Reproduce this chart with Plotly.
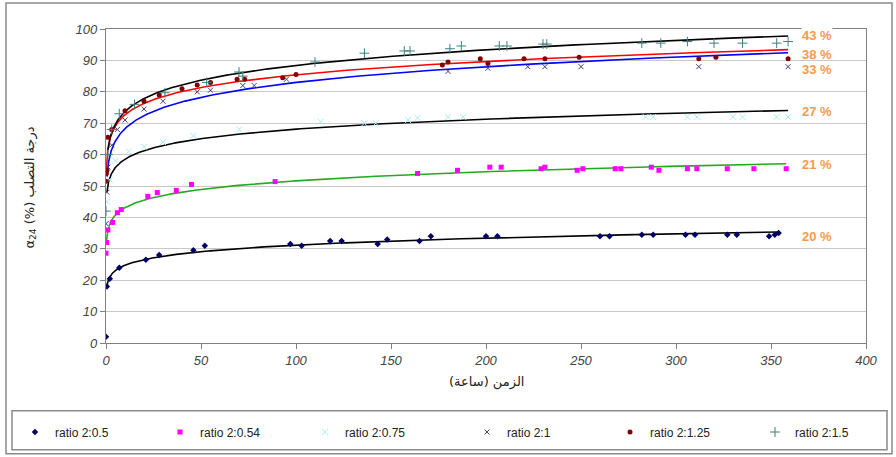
import numpy as np
import plotly.graph_objects as go

# ---------------- data ----------------
names = ["ratio 2:0.5", "ratio 2:0.54", "ratio 2:0.75", "ratio 2:1", "ratio 2:1.25", "ratio 2:1.5"]

x_05 = [0, 0.5, 2, 7, 21, 28, 46, 52, 97, 103, 118, 124, 143, 148, 165, 171, 200, 206,
        260, 265, 282, 288, 305, 310, 327, 332, 349, 352, 354]
y_05 = [2, 18, 20.5, 24, 26.5, 28, 29.5, 31, 31.5, 31, 32.5, 32.5, 31.5, 33, 32.5, 34, 34, 34,
        34, 34, 34.5, 34.5, 34.5, 34.5, 34.5, 34.5, 34, 34.5, 35]

x_054 = [0, 0.3, 1, 3.5, 6, 8, 22, 27, 37, 45, 89, 164, 185, 202, 208, 229, 231, 248, 251,
         268, 271, 287, 291, 306, 311, 327, 341, 358]
y_054 = [28.6, 32, 36, 38.4, 41.5, 42.5, 46.7, 47.9, 48.6, 50.5, 51.4, 54, 55, 56, 56, 55.5, 56,
         55, 55.5, 55.5, 55.5, 56, 55, 55.5, 55.5, 55.5, 55.5, 55.5]

x_075 = [0, 0.5, 2, 5, 12, 20, 30, 46, 70, 113, 136, 142, 159, 164, 180, 188, 284, 288, 306,
         311, 330, 335, 353, 359]
y_075 = [38, 45, 52, 58, 61, 62.5, 64, 66, 68, 70.5, 70, 70, 71, 71.7, 72, 72, 72, 72, 72,
         72, 72, 72, 72, 72]

x_1 = [0, 0.5, 1, 3, 6, 10, 20, 30, 48, 55, 72, 78, 95, 180, 201, 222, 231, 250, 312, 359]
y_1 = [38, 48, 56, 63, 68, 71, 74.5, 77, 80, 80.5, 82, 82, 84, 86.5, 87.5, 88, 88, 88, 88, 88]

x_125 = [0, 0.2, 0.5, 1, 3, 10, 20, 28, 40, 48, 55, 69, 73, 93, 100, 177, 180, 197, 201, 220,
         231, 249, 312, 321, 359]
y_125 = [51.5, 54, 55, 65.5, 68, 74, 77, 79, 81, 82.2, 83, 84, 84, 84.5, 85.5, 88.5, 89.5,
         90.5, 89, 90.5, 90.5, 91, 90.5, 91, 90.5]

x_15 = [0, 1, 3, 7, 15, 31, 53, 70, 72, 110, 136, 157, 160, 181, 187, 207, 211, 230, 232,
        282, 292, 306, 320, 335, 353, 359]
y_15 = [42, 60, 68, 73, 76, 79.7, 83, 86.3, 85, 89.5, 92.3, 93, 93, 93.7, 94.6, 94.6, 94.6,
        95.2, 95.2, 95.5, 95.5, 96, 95.5, 95.5, 95.5, 96]

pct_labels = ["20 %", "21 %", "27 %", "33 %", "38 %", "43 %"]
pct_y = [34, 56.8, 73.7, 87, 91.8, 98]

xs = [x_05, x_054, x_075, x_1, x_125, x_15]
ys = [y_05, y_054, y_075, y_1, y_125, y_15]

# ---------------- styles ----------------
marker_styles = [
    dict(symbol="diamond", color="#000066", size=5),
    dict(symbol="square", color="#FF00FF", size=5),
    dict(symbol="x-thin", color="#A8ECF4", size=6, line=dict(color="#A8ECF4", width=1)),
    dict(symbol="x-thin", color="#404070", size=5, line=dict(color="#404070", width=1)),
    dict(symbol="circle", color="#800000", size=5),
    dict(symbol="cross-thin", color="#3F7F7F", size=7, line=dict(color="#3F7F7F", width=1)),
]
trend_colors = ["#000000", "#22AA22", "#000000", "#0000FF", "#FF0000", "#000000"]
legend_marker_px = [45, 190, 335, 497, 640, 785]

L, R, T, B = 106, 30, 29, 113
W, H = 896, 457
pw, ph = W - L - R, H - T - B

def px(p):
    return (p - L) / pw

def py(p):
    return (H - B - p) / ph

fig = go.Figure()

# power trendlines fitted from the data (like spreadsheet trendlines)
for xv, yv, col in zip(xs, ys, trend_colors):
    xa = np.array(xv, dtype=float)
    ya = np.array(yv, dtype=float)
    m = xa > 0
    b, loga = np.polyfit(np.log(xa[m]), np.log(ya[m]), 1)
    xg = np.logspace(np.log10(xa[m].min()), np.log10(xa.max()), 300)
    fig.add_trace(go.Scatter(x=xg, y=np.exp(loga) * xg ** b, mode="lines",
                             line=dict(color=col, width=1.6), showlegend=False,
                             hoverinfo="skip"))

legend_layouts = {}
for i, (xv, yv, nm, ms) in enumerate(zip(xs, ys, names, marker_styles)):
    lg = "legend" if i == 0 else "legend%d" % (i + 1)
    fig.add_trace(go.Scatter(x=xv, y=yv, mode="markers", name=nm, marker=ms, legend=lg))
    legend_layouts[lg] = dict(orientation="h", x=px(legend_marker_px[i] - 30), y=py(432),
                              xanchor="left", yanchor="middle",
                              font=dict(family="Liberation Sans, Arial", size=12, color="#222"),
                              bgcolor="rgba(0,0,0,0)", borderwidth=0)

# percentage labels
for lab, yy in zip(pct_labels, pct_y):
    fig.add_annotation(x=366, y=yy, text="<b>" + lab + "</b>", showarrow=False,
                       xanchor="left", yanchor="middle",
                       font=dict(family="Liberation Sans, Arial", size=13, color="#F79A4A"),
                       bgcolor="white" if lab == "43 %" else "rgba(0,0,0,0)",
                       borderpad=0)

# outer frame and legend frame
fig.add_shape(type="rect", xref="paper", yref="paper", x0=px(6), x1=px(892), y0=py(455), y1=py(3),
              line=dict(color="#8A8A8A", width=1.5), layer="below")
fig.add_shape(type="rect", xref="paper", yref="paper", x0=px(12), x1=px(887), y0=py(451), y1=py(412),
              line=dict(color="#8A8A8A", width=1.5), layer="below")

# axis titles
fig.add_annotation(xref="paper", yref="paper", x=0.5, y=py(383), text="الزمن (ساعة)",
                   xanchor="center", yanchor="middle",
                   showarrow=False, font=dict(family="DejaVu Sans", size=13, color="#222"))
fig.add_annotation(xref="paper", yref="paper", x=px(30), y=py(188),
                   xanchor="center", yanchor="middle",
                   text="α<sub>24</sub> (%) درجة التصلب", textangle=-90,
                   showarrow=False, font=dict(family="DejaVu Sans", size=13, color="#222"))

tickfont = dict(family="Liberation Sans, Arial", size=13, color="#444", style="italic")
fig.update_xaxes(range=[0, 400], dtick=50, showgrid=False, zeroline=False,
                 showline=True, linecolor="#808080", linewidth=1.2, mirror=True,
                 ticks="outside", ticklen=5, tickcolor="#808080", tickfont=tickfont)
fig.update_yaxes(range=[0, 100], dtick=10, showgrid=True, gridcolor="#C8C8C8", gridwidth=1,
                 zeroline=False, showline=True, linecolor="#808080", linewidth=1.2, mirror=True,
                 ticks="outside", ticklen=5, tickcolor="#808080", tickfont=tickfont)

fig.update_layout(
    width=W, height=H,
    margin=dict(l=L, r=R, t=T, b=B),
    paper_bgcolor="white", plot_bgcolor="white",
    showlegend=True,
    **legend_layouts,
)

fig.write_html("out.html")
